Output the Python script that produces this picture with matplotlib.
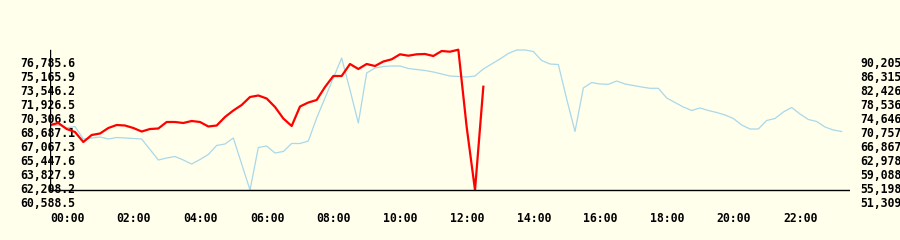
import matplotlib
matplotlib.use("Agg")
import matplotlib.pyplot as plt
import numpy as np

# ---- data ----
interval_minutes = 15
red_values = [69531, 69763, 69068, 68721, 67564, 68374, 68548, 69184, 69531, 69473,
              69184, 68779, 69068, 69126, 69878, 69878, 69763, 69994, 69878, 69358,
              69473, 70457, 71209, 71845, 72771, 72944, 72597, 71614, 70283, 69416,
              71671, 72134, 72423, 73927, 75200, 75200, 76588, 76010, 76588, 76357,
              76878, 77132, 77710, 77549, 77710, 77745, 77514, 78092, 78011, 78243,
              69300, 62011, 73962]
blue_values = [72508, 72786, 71952, 72369, 68896, 69174, 69452, 68896, 69313, 69174,
               69035, 68896, 65979, 63062, 63617, 64034, 63062, 61950, 63200, 64590,
               67090, 67507, 69174, 61950, 54727, 66534, 66951, 65006, 65423, 67646,
               67646, 68340, 74730, 80287, 85844, 91400, 82510, 73341, 87233, 88622,
               89039, 89178, 89178, 88483, 88205, 87927, 87511, 86955, 86399, 86260,
               86122, 86399, 88344, 89734, 91123, 92650, 93623, 93623, 93206, 90706,
               89734, 89594, 80009, 70980, 83065, 84593, 84177, 84093, 85010, 84177,
               83760, 83343, 82982, 82982, 80287, 79037, 77787, 76814, 77509, 76814,
               76259, 75564, 74592, 72786, 71674, 71674, 74036, 74592, 76398, 77648,
               75842, 74314, 73758, 72230, 71397, 70980]
left_tick_labels = ["60,588.5", "62,208.2", "63,827.9", "65,447.6", "67,067.3",
                    "68,687.1", "70,306.8", "71,926.5", "73,546.2", "75,165.9", "76,785.6"]
right_tick_labels = ["51,309", "55,198", "59,088", "62,978", "66,867", "70,757",
                     "74,646", "78,536", "82,426", "86,315", "90,205"]
x_tick_labels = ["00:00", "02:00", "04:00", "06:00", "08:00", "10:00",
                 "12:00", "14:00", "16:00", "18:00", "20:00", "22:00"]

left_ticks = [float(s.replace(",", "")) for s in left_tick_labels]
right_ticks = [float(s.replace(",", "")) for s in right_tick_labels]
x_ticks = [int(s[:2]) for s in x_tick_labels]

red_x = np.arange(len(red_values)) * interval_minutes / 60.0
blue_x = np.arange(len(blue_values)) * interval_minutes / 60.0

# ---- figure ----
bg = "#FFFFEC"
fig = plt.figure(figsize=(9, 2.4), dpi=100, facecolor=bg)
ax = fig.add_axes([50 / 900, 32 / 240, 800 / 900, 160 / 240])
ax.set_facecolor(bg)
ax2 = ax.twinx()

ax.set_xlim(0, 24)
ax.set_ylim(59929, 78439)
ax2.set_ylim(49726, 94178)

ax2.plot(blue_x, blue_values, color="#A8D8EA", lw=0.9, zorder=2)
ax.set_zorder(ax2.get_zorder() + 1)
ax.patch.set_visible(False)
ax2.patch.set_visible(True)
ax2.patch.set_facecolor(bg)
ax.plot(red_x, red_values, color="#FF0000", lw=1.6, zorder=3)

# axis lines
ax.axhline(min(red_values), color="black", lw=1.0, zorder=4)
ax.axvline(0, ymin=(208 - 190) / 160, ymax=(208 - 50) / 160, color="black", lw=1.0, zorder=4)

for a in (ax, ax2):
    for s in a.spines.values():
        s.set_visible(False)

font = dict(family="DejaVu Sans Mono", weight="bold", size=8.3)

ax.set_yticks(left_ticks)
ax.set_yticklabels(left_tick_labels, **font)
ax.tick_params(axis="y", length=0, pad=-18)

ax2.set_yticks(right_ticks)
ax2.set_yticklabels(right_tick_labels, **font)
ax2.tick_params(axis="y", length=0, pad=7.5)

ax.set_xticks(x_ticks)
ax.set_xticklabels(x_tick_labels, ha="left", **font)
ax.tick_params(axis="x", length=0, pad=3)

fig.savefig("out.png", dpi=100, facecolor=bg)
